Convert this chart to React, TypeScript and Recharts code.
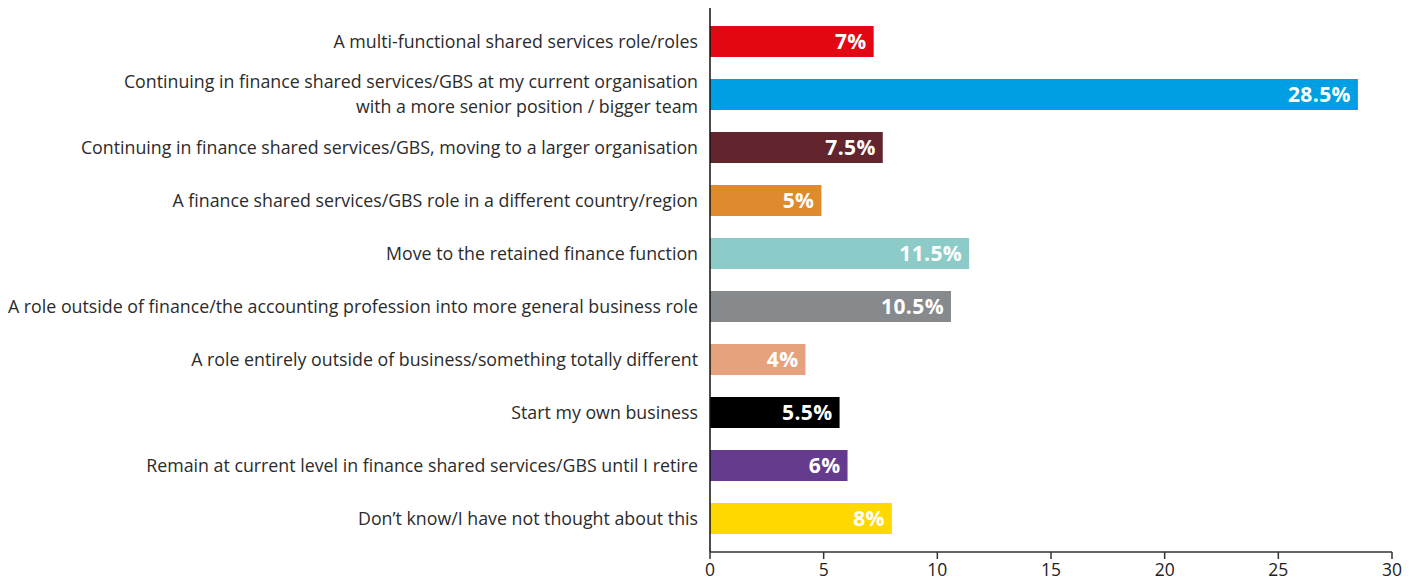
import { BarChart, Bar, XAxis, YAxis, Cell, LabelList } from "recharts";

const categories = [
  "A multi-functional shared services role/roles",
  "Continuing in finance shared services/GBS at my current organisation|with a more senior position / bigger team",
  "Continuing in finance shared services/GBS, moving to a larger organisation",
  "A finance shared services/GBS role in a different country/region",
  "Move to the retained finance function",
  "A role outside of finance/the accounting profession into more general business role",
  "A role entirely outside of business/something totally different",
  "Start my own business",
  "Remain at current level in finance shared services/GBS until I retire",
  "Don\u2019t know/I have not thought about this",
];

const values = [7.2, 28.5, 7.6, 4.9, 11.4, 10.6, 4.2, 5.7, 6.05, 8.0];
const valueLabels = ["7%", "28.5%", "7.5%", "5%", "11.5%", "10.5%", "4%", "5.5%", "6%", "8%"];
const colors = [
  "#e30613",
  "#009fe3",
  "#62252e",
  "#e08a2e",
  "#8ccbc8",
  "#868a8c",
  "#e6a27c",
  "#000000",
  "#653b8e",
  "#ffd800",
];
const xTicks = [0, 5, 10, 15, 20, 25, 30];

const data = categories.map((c, i) => ({ name: c, value: values[i], label: valueLabels[i] }));

const FONT = "'Open Sans', Lato, sans-serif";

function CategoryTick(props: any) {
  const { x, y, payload } = props;
  const lines = String(payload.value).split("|");
  const lh = 25;
  const start = -((lines.length - 1) * lh) / 2;
  return (
    <g transform={`translate(${x},${y})`}>
      {lines.map((ln, i) => (
        <text
          key={i}
          x={-4}
          y={start + i * lh}
          dy="0.35em"
          textAnchor="end"
          fill="#2b2b2b"
          fontSize={17.8}
          fontFamily={FONT}
        >
          {ln}
        </text>
      ))}
    </g>
  );
}

function ValueLabel(props: any) {
  const { x, y, width, height, value } = props;
  return (
    <text
      x={x + width - 7}
      y={y + height / 2}
      dy="0.36em"
      textAnchor="end"
      fill="#ffffff"
      fontSize={21}
      fontWeight={700}
      letterSpacing={0.4}
      fontFamily={FONT}
    >
      {value}
    </text>
  );
}

export default function App() {
  return (
    <div style={{ position: "absolute", left: 0, top: 0, width: 1417, height: 587, background: "#fff" }}>
      <BarChart
        width={1417}
        height={587}
        data={data}
        layout="vertical"
        margin={{ top: 8, right: 25, bottom: 0, left: 0 }}
        barCategoryGap={0}
      >
        <XAxis
          type="number"
          domain={[0, 30]}
          ticks={xTicks}
          height={35}
          tickSize={7}
          tickMargin={5}
          stroke="#333"
          strokeWidth={1.5}
          tick={{ fontSize: 17.5, fill: "#222", fontFamily: FONT }}
          allowDataOverflow
        />
        <YAxis
          type="category"
          dataKey="name"
          width={710}
          tickLine={false}
          stroke="#111"
          strokeWidth={1.5}
          padding={{ top: 7, bottom: 7 }}
          tick={<CategoryTick />}
          interval={0}
        />
        <Bar dataKey="value" barSize={31} isAnimationActive={false}>
          {data.map((d, i) => (
            <Cell key={i} fill={colors[i]} />
          ))}
          <LabelList dataKey="label" content={<ValueLabel />} />
        </Bar>
      </BarChart>
    </div>
  );
}
